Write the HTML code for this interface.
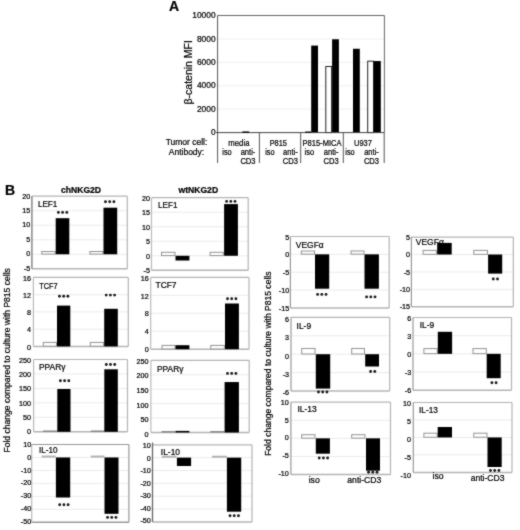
<!DOCTYPE html>
<html><head><meta charset="utf-8"><style>
html,body{margin:0;padding:0;background:#fff;width:520px;height:530px;overflow:hidden;}
svg{display:block;}
#w{width:520px;height:530px;}
text{font-family:"Liberation Sans", sans-serif;stroke:#000;stroke-width:0.22px;}
</style></head><body><div id="w">
<svg width="520" height="530" viewBox="0 0 520 530" font-family='"Liberation Sans", sans-serif'><defs><filter id="bl" filterUnits="userSpaceOnUse" x="0" y="0" width="520" height="530" color-interpolation-filters="sRGB"><feConvolveMatrix order="3" kernelMatrix="1 2 1 2 16 2 1 2 1" edgeMode="duplicate"/></filter></defs><rect width="520" height="530" fill="#fff"/><g filter="url(#bl)"><rect width="520" height="530" fill="#fff"/><text x="169.0" y="11.2" font-size="14" text-anchor="start" font-weight="bold" fill="#000" >A</text>
<line x1="217.60" y1="109.18" x2="384.40" y2="109.18" stroke="#f0f0f0" stroke-width="1"/>
<line x1="217.60" y1="85.76" x2="384.40" y2="85.76" stroke="#f0f0f0" stroke-width="1"/>
<line x1="217.60" y1="62.34" x2="384.40" y2="62.34" stroke="#f0f0f0" stroke-width="1"/>
<line x1="217.60" y1="38.92" x2="384.40" y2="38.92" stroke="#f0f0f0" stroke-width="1"/>
<line x1="217.60" y1="15.50" x2="384.40" y2="15.50" stroke="#f0f0f0" stroke-width="1"/>
<rect x="311.20" y="45.59" width="6.80" height="87.01" fill="#000" stroke="none" stroke-width="1"/>
<rect x="325.80" y="66.47" width="5.80" height="66.13" fill="#fff" stroke="#222" stroke-width="1"/>
<rect x="332.10" y="39.27" width="6.80" height="93.33" fill="#000" stroke="none" stroke-width="1"/>
<rect x="353.00" y="48.76" width="6.80" height="83.84" fill="#000" stroke="none" stroke-width="1"/>
<rect x="367.70" y="61.20" width="5.80" height="71.40" fill="#fff" stroke="#222" stroke-width="1"/>
<rect x="374.00" y="61.05" width="6.80" height="71.55" fill="#000" stroke="none" stroke-width="1"/>
<line x1="217.60" y1="15.50" x2="384.40" y2="15.50" stroke="#666" stroke-width="1"/>
<line x1="384.40" y1="15.50" x2="384.40" y2="132.60" stroke="#666" stroke-width="1"/>
<line x1="217.60" y1="15.50" x2="217.60" y2="163.00" stroke="#555" stroke-width="1"/>
<line x1="216.10" y1="132.60" x2="384.40" y2="132.60" stroke="#444" stroke-width="1"/>
<text x="215.6" y="135.29999999999998" font-size="8.4" text-anchor="end" font-weight="normal" fill="#000" >0</text>
<text x="215.6" y="111.88" font-size="8.4" text-anchor="end" font-weight="normal" fill="#000" >2000</text>
<text x="215.6" y="88.46" font-size="8.4" text-anchor="end" font-weight="normal" fill="#000" >4000</text>
<text x="215.6" y="65.03999999999999" font-size="8.4" text-anchor="end" font-weight="normal" fill="#000" >6000</text>
<text x="215.6" y="41.61999999999999" font-size="8.4" text-anchor="end" font-weight="normal" fill="#000" >8000</text>
<text x="215.6" y="18.2" font-size="8.4" text-anchor="end" font-weight="normal" fill="#000" >10000</text>
<rect x="242.30" y="131.40" width="6.90" height="1.60" fill="#111" stroke="none" stroke-width="1"/>
<rect x="305.20" y="131.50" width="6.00" height="1.50" fill="#111" stroke="none" stroke-width="1"/>
<line x1="259.40" y1="132.60" x2="259.40" y2="163.00" stroke="#555" stroke-width="1"/>
<line x1="300.70" y1="132.60" x2="300.70" y2="163.00" stroke="#555" stroke-width="1"/>
<line x1="343.30" y1="132.60" x2="343.30" y2="163.00" stroke="#555" stroke-width="1"/>
<line x1="384.20" y1="132.60" x2="384.20" y2="163.00" stroke="#555" stroke-width="1"/>
<text x="0" y="0" font-size="10.5" text-anchor="middle" font-weight="normal" fill="#000" transform="translate(192.4 72.3) rotate(-90)">&#946;-catenin MFI</text>
<text x="186.5" y="145.1" font-size="8.5" text-anchor="middle" font-weight="normal" fill="#000" >Tumor cell:</text>
<text x="186.5" y="155.3" font-size="8.5" text-anchor="middle" font-weight="normal" fill="#000" >Antibody:</text>
<text x="238.9" y="145.6" font-size="8.3" text-anchor="middle" font-weight="normal" fill="#000" textLength="21.1" lengthAdjust="spacingAndGlyphs">media</text>
<text x="278.3" y="145.6" font-size="8.3" text-anchor="middle" font-weight="normal" fill="#000" textLength="17.3" lengthAdjust="spacingAndGlyphs">P815</text>
<text x="322.0" y="145.6" font-size="8.3" text-anchor="middle" font-weight="normal" fill="#000" textLength="38.9" lengthAdjust="spacingAndGlyphs">P815-MICA</text>
<text x="363.0" y="145.6" font-size="8.3" text-anchor="middle" font-weight="normal" fill="#000" textLength="17.9" lengthAdjust="spacingAndGlyphs">U937</text>
<text x="227.0" y="155.4" font-size="8.3" text-anchor="middle" font-weight="normal" fill="#000" lengthAdjust="spacingAndGlyphs" textLength="9.4">iso</text>
<text x="248.0" y="155.3" font-size="8.3" text-anchor="middle" font-weight="normal" fill="#000" lengthAdjust="spacingAndGlyphs" textLength="14.7">anti-</text>
<text x="248.0" y="163.5" font-size="8.3" text-anchor="middle" font-weight="normal" fill="#000" lengthAdjust="spacingAndGlyphs" textLength="15.2">CD3</text>
<text x="269.9" y="155.4" font-size="8.3" text-anchor="middle" font-weight="normal" fill="#000" lengthAdjust="spacingAndGlyphs" textLength="9.4">iso</text>
<text x="290.4" y="155.3" font-size="8.3" text-anchor="middle" font-weight="normal" fill="#000" lengthAdjust="spacingAndGlyphs" textLength="14.7">anti-</text>
<text x="290.4" y="163.5" font-size="8.3" text-anchor="middle" font-weight="normal" fill="#000" lengthAdjust="spacingAndGlyphs" textLength="15.2">CD3</text>
<text x="309.3" y="155.4" font-size="8.3" text-anchor="middle" font-weight="normal" fill="#000" lengthAdjust="spacingAndGlyphs" textLength="9.4">iso</text>
<text x="331.1" y="155.3" font-size="8.3" text-anchor="middle" font-weight="normal" fill="#000" lengthAdjust="spacingAndGlyphs" textLength="14.7">anti-</text>
<text x="331.1" y="163.5" font-size="8.3" text-anchor="middle" font-weight="normal" fill="#000" lengthAdjust="spacingAndGlyphs" textLength="15.2">CD3</text>
<text x="350.0" y="155.4" font-size="8.3" text-anchor="middle" font-weight="normal" fill="#000" lengthAdjust="spacingAndGlyphs" textLength="9.4">iso</text>
<text x="371.5" y="155.3" font-size="8.3" text-anchor="middle" font-weight="normal" fill="#000" lengthAdjust="spacingAndGlyphs" textLength="14.7">anti-</text>
<text x="371.5" y="163.5" font-size="8.3" text-anchor="middle" font-weight="normal" fill="#000" lengthAdjust="spacingAndGlyphs" textLength="15.2">CD3</text>
<text x="5.0" y="194.9" font-size="14" text-anchor="start" font-weight="bold" fill="#000" >B</text>
<text x="81.0" y="193.3" font-size="8.6" text-anchor="middle" font-weight="bold" fill="#000" >chNKG2D</text>
<text x="198.3" y="193.3" font-size="8.6" text-anchor="middle" font-weight="bold" fill="#000" >wtNKG2D</text>
<line x1="31.90" y1="210.72" x2="127.30" y2="210.72" stroke="#ebebeb" stroke-width="1"/>
<line x1="31.90" y1="225.24" x2="127.30" y2="225.24" stroke="#ebebeb" stroke-width="1"/>
<line x1="31.90" y1="239.76" x2="127.30" y2="239.76" stroke="#ebebeb" stroke-width="1"/>
<line x1="31.90" y1="254.28" x2="127.30" y2="254.28" stroke="#ebebeb" stroke-width="1"/>
<line x1="31.90" y1="196.20" x2="127.30" y2="196.20" stroke="#b4b4b4" stroke-width="1.2"/>
<line x1="127.30" y1="196.20" x2="127.30" y2="268.80" stroke="#b4b4b4" stroke-width="1.2"/>
<line x1="31.90" y1="268.80" x2="127.30" y2="268.80" stroke="#b4b4b4" stroke-width="1.5"/>
<text x="37.9" y="207.2" font-size="8.5" text-anchor="start" font-weight="normal" fill="#000" textLength="19.5" lengthAdjust="spacingAndGlyphs">LEF1</text>
<rect x="41.80" y="251.50" width="13.40" height="2.58" fill="#fff" stroke="#939393" stroke-width="1"/>
<rect x="55.70" y="218.20" width="13.60" height="36.08" fill="#000" stroke="none" stroke-width="1"/>
<rect x="89.90" y="251.50" width="13.10" height="2.58" fill="#fff" stroke="#939393" stroke-width="1"/>
<rect x="103.50" y="207.70" width="13.70" height="46.58" fill="#000" stroke="none" stroke-width="1"/>
<line x1="31.90" y1="196.20" x2="31.90" y2="268.80" stroke="#888" stroke-width="1.5"/>
<text x="30.299999999999997" y="198.7" font-size="7.2" text-anchor="end" font-weight="normal" fill="#000" >20</text>
<text x="30.299999999999997" y="213.08" font-size="7.2" text-anchor="end" font-weight="normal" fill="#000" >15</text>
<text x="30.299999999999997" y="227.46" font-size="7.2" text-anchor="end" font-weight="normal" fill="#000" >10</text>
<text x="30.299999999999997" y="241.84" font-size="7.2" text-anchor="end" font-weight="normal" fill="#000" >5</text>
<text x="30.299999999999997" y="256.22" font-size="7.2" text-anchor="end" font-weight="normal" fill="#000" >0</text>
<text x="30.299999999999997" y="270.6" font-size="7.2" text-anchor="end" font-weight="normal" fill="#000" >-5</text>
<circle cx="58.40" cy="212.40" r="1.45" fill="#1a1a1a"/>
<circle cx="62.60" cy="212.40" r="1.45" fill="#1a1a1a"/>
<circle cx="66.80" cy="212.40" r="1.45" fill="#1a1a1a"/>
<circle cx="105.50" cy="201.70" r="1.45" fill="#1a1a1a"/>
<circle cx="109.70" cy="201.70" r="1.45" fill="#1a1a1a"/>
<circle cx="113.90" cy="201.70" r="1.45" fill="#1a1a1a"/>
<line x1="33.40" y1="294.65" x2="128.30" y2="294.65" stroke="#ebebeb" stroke-width="1"/>
<line x1="33.40" y1="311.90" x2="128.30" y2="311.90" stroke="#ebebeb" stroke-width="1"/>
<line x1="33.40" y1="329.15" x2="128.30" y2="329.15" stroke="#ebebeb" stroke-width="1"/>
<line x1="33.40" y1="277.40" x2="128.30" y2="277.40" stroke="#b4b4b4" stroke-width="1.2"/>
<line x1="128.30" y1="277.40" x2="128.30" y2="346.40" stroke="#b4b4b4" stroke-width="1.2"/>
<line x1="33.40" y1="346.40" x2="128.30" y2="346.40" stroke="#b4b4b4" stroke-width="1.5"/>
<text x="39.2" y="288.8" font-size="8.5" text-anchor="start" font-weight="normal" fill="#000" textLength="18.3" lengthAdjust="spacingAndGlyphs">TCF7</text>
<rect x="43.30" y="342.40" width="13.20" height="3.80" fill="#fff" stroke="#939393" stroke-width="1"/>
<rect x="57.00" y="305.60" width="13.30" height="40.80" fill="#000" stroke="none" stroke-width="1"/>
<rect x="90.30" y="342.40" width="13.40" height="3.80" fill="#fff" stroke="#939393" stroke-width="1"/>
<rect x="104.20" y="308.80" width="13.60" height="37.60" fill="#000" stroke="none" stroke-width="1"/>
<line x1="33.40" y1="277.40" x2="33.40" y2="346.40" stroke="#bbb" stroke-width="1.2"/>
<text x="30.999999999999996" y="280.7" font-size="7.2" text-anchor="end" font-weight="normal" fill="#000" >16</text>
<text x="30.999999999999996" y="297.9" font-size="7.2" text-anchor="end" font-weight="normal" fill="#000" >12</text>
<text x="30.999999999999996" y="315.1" font-size="7.2" text-anchor="end" font-weight="normal" fill="#000" >8</text>
<text x="30.999999999999996" y="332.3" font-size="7.2" text-anchor="end" font-weight="normal" fill="#000" >4</text>
<text x="30.999999999999996" y="349.5" font-size="7.2" text-anchor="end" font-weight="normal" fill="#000" >0</text>
<circle cx="59.50" cy="296.25" r="1.45" fill="#1a1a1a"/>
<circle cx="63.70" cy="296.25" r="1.45" fill="#1a1a1a"/>
<circle cx="67.90" cy="296.25" r="1.45" fill="#1a1a1a"/>
<circle cx="106.20" cy="295.10" r="1.45" fill="#1a1a1a"/>
<circle cx="110.40" cy="295.10" r="1.45" fill="#1a1a1a"/>
<circle cx="114.60" cy="295.10" r="1.45" fill="#1a1a1a"/>
<line x1="33.60" y1="373.96" x2="127.50" y2="373.96" stroke="#ebebeb" stroke-width="1"/>
<line x1="33.60" y1="388.42" x2="127.50" y2="388.42" stroke="#ebebeb" stroke-width="1"/>
<line x1="33.60" y1="402.88" x2="127.50" y2="402.88" stroke="#ebebeb" stroke-width="1"/>
<line x1="33.60" y1="417.34" x2="127.50" y2="417.34" stroke="#ebebeb" stroke-width="1"/>
<line x1="33.60" y1="359.50" x2="127.50" y2="359.50" stroke="#b4b4b4" stroke-width="1.2"/>
<line x1="127.50" y1="359.50" x2="127.50" y2="431.80" stroke="#b4b4b4" stroke-width="1.2"/>
<line x1="33.60" y1="431.80" x2="127.50" y2="431.80" stroke="#b4b4b4" stroke-width="1.5"/>
<text x="39.0" y="369.6" font-size="8.5" text-anchor="start" font-weight="normal" fill="#000" textLength="26.5" lengthAdjust="spacingAndGlyphs">PPAR&#947;</text>
<rect x="43.00" y="430.60" width="14.30" height="1.00" fill="#666" stroke="none" stroke-width="1"/>
<rect x="57.30" y="389.00" width="13.20" height="42.80" fill="#000" stroke="none" stroke-width="1"/>
<rect x="90.80" y="430.60" width="13.50" height="1.00" fill="#666" stroke="none" stroke-width="1"/>
<rect x="104.30" y="369.30" width="13.50" height="62.50" fill="#000" stroke="none" stroke-width="1"/>
<line x1="33.60" y1="359.50" x2="33.60" y2="431.80" stroke="#bbb" stroke-width="1.2"/>
<text x="31.0" y="363.0" font-size="7.2" text-anchor="end" font-weight="normal" fill="#000" >250</text>
<text x="31.0" y="377.18" font-size="7.2" text-anchor="end" font-weight="normal" fill="#000" >200</text>
<text x="31.0" y="391.36" font-size="7.2" text-anchor="end" font-weight="normal" fill="#000" >150</text>
<text x="31.0" y="405.54" font-size="7.2" text-anchor="end" font-weight="normal" fill="#000" >100</text>
<text x="31.0" y="419.72" font-size="7.2" text-anchor="end" font-weight="normal" fill="#000" >50</text>
<text x="31.0" y="433.9" font-size="7.2" text-anchor="end" font-weight="normal" fill="#000" >0</text>
<circle cx="60.40" cy="380.80" r="1.45" fill="#1a1a1a"/>
<circle cx="64.60" cy="380.80" r="1.45" fill="#1a1a1a"/>
<circle cx="68.80" cy="380.80" r="1.45" fill="#1a1a1a"/>
<circle cx="106.30" cy="364.50" r="1.45" fill="#1a1a1a"/>
<circle cx="110.50" cy="364.50" r="1.45" fill="#1a1a1a"/>
<circle cx="114.70" cy="364.50" r="1.45" fill="#1a1a1a"/>
<line x1="31.70" y1="457.47" x2="128.90" y2="457.47" stroke="#ebebeb" stroke-width="1"/>
<line x1="31.70" y1="470.43" x2="128.90" y2="470.43" stroke="#ebebeb" stroke-width="1"/>
<line x1="31.70" y1="483.40" x2="128.90" y2="483.40" stroke="#ebebeb" stroke-width="1"/>
<line x1="31.70" y1="496.37" x2="128.90" y2="496.37" stroke="#ebebeb" stroke-width="1"/>
<line x1="31.70" y1="509.33" x2="128.90" y2="509.33" stroke="#ebebeb" stroke-width="1"/>
<line x1="31.70" y1="444.50" x2="128.90" y2="444.50" stroke="#999" stroke-width="1.2"/>
<line x1="128.90" y1="444.50" x2="128.90" y2="522.30" stroke="#999" stroke-width="1.2"/>
<line x1="31.70" y1="522.30" x2="128.90" y2="522.30" stroke="#999" stroke-width="1.5"/>
<text x="39.0" y="453.2" font-size="8.5" text-anchor="start" font-weight="normal" fill="#000" textLength="18.5" lengthAdjust="spacingAndGlyphs">IL-10</text>
<rect x="41.70" y="455.57" width="14.00" height="1.90" fill="#b0b0b0" stroke="none" stroke-width="1"/>
<rect x="55.90" y="457.47" width="14.30" height="40.03" fill="#000" stroke="none" stroke-width="1"/>
<rect x="90.80" y="455.57" width="13.70" height="1.90" fill="#b0b0b0" stroke="none" stroke-width="1"/>
<rect x="104.50" y="457.47" width="14.00" height="56.33" fill="#000" stroke="none" stroke-width="1"/>
<line x1="31.70" y1="444.50" x2="31.70" y2="522.30" stroke="#bbb" stroke-width="1.2"/>
<text x="31.2" y="447.0" font-size="7.2" text-anchor="end" font-weight="normal" fill="#000" >10</text>
<text x="31.2" y="459.8" font-size="7.2" text-anchor="end" font-weight="normal" fill="#000" >0</text>
<text x="31.2" y="472.6" font-size="7.2" text-anchor="end" font-weight="normal" fill="#000" >-10</text>
<text x="31.2" y="485.4" font-size="7.2" text-anchor="end" font-weight="normal" fill="#000" >-20</text>
<text x="31.2" y="498.2" font-size="7.2" text-anchor="end" font-weight="normal" fill="#000" >-30</text>
<text x="31.2" y="511.0" font-size="7.2" text-anchor="end" font-weight="normal" fill="#000" >-40</text>
<text x="31.2" y="523.8" font-size="7.2" text-anchor="end" font-weight="normal" fill="#000" >-50</text>
<circle cx="59.70" cy="504.70" r="1.45" fill="#1a1a1a"/>
<circle cx="63.90" cy="504.70" r="1.45" fill="#1a1a1a"/>
<circle cx="68.10" cy="504.70" r="1.45" fill="#1a1a1a"/>
<circle cx="107.55" cy="517.40" r="1.45" fill="#1a1a1a"/>
<circle cx="111.75" cy="517.40" r="1.45" fill="#1a1a1a"/>
<circle cx="115.95" cy="517.40" r="1.45" fill="#1a1a1a"/>
<line x1="151.50" y1="212.22" x2="248.20" y2="212.22" stroke="#ebebeb" stroke-width="1"/>
<line x1="151.50" y1="226.74" x2="248.20" y2="226.74" stroke="#ebebeb" stroke-width="1"/>
<line x1="151.50" y1="241.26" x2="248.20" y2="241.26" stroke="#ebebeb" stroke-width="1"/>
<line x1="151.50" y1="255.78" x2="248.20" y2="255.78" stroke="#ebebeb" stroke-width="1"/>
<line x1="151.50" y1="197.70" x2="248.20" y2="197.70" stroke="#b4b4b4" stroke-width="1.2"/>
<line x1="248.20" y1="197.70" x2="248.20" y2="270.30" stroke="#b4b4b4" stroke-width="1.2"/>
<line x1="151.50" y1="270.30" x2="248.20" y2="270.30" stroke="#b4b4b4" stroke-width="1.5"/>
<text x="158.0" y="208.2" font-size="8.5" text-anchor="start" font-weight="normal" fill="#000" textLength="19.4" lengthAdjust="spacingAndGlyphs">LEF1</text>
<rect x="161.50" y="252.30" width="13.50" height="3.28" fill="#fff" stroke="#939393" stroke-width="1"/>
<rect x="175.50" y="255.78" width="13.90" height="4.72" fill="#000" stroke="none" stroke-width="1"/>
<rect x="210.10" y="252.30" width="13.20" height="3.28" fill="#fff" stroke="#939393" stroke-width="1"/>
<rect x="224.10" y="204.10" width="13.80" height="51.68" fill="#000" stroke="none" stroke-width="1"/>
<line x1="151.50" y1="197.70" x2="151.50" y2="270.30" stroke="#bbb" stroke-width="1.2"/>
<text x="150.0" y="200.5" font-size="7.2" text-anchor="end" font-weight="normal" fill="#000" >20</text>
<text x="150.0" y="215.0" font-size="7.2" text-anchor="end" font-weight="normal" fill="#000" >15</text>
<text x="150.0" y="229.5" font-size="7.2" text-anchor="end" font-weight="normal" fill="#000" >10</text>
<text x="150.0" y="244.0" font-size="7.2" text-anchor="end" font-weight="normal" fill="#000" >5</text>
<text x="150.0" y="258.5" font-size="7.2" text-anchor="end" font-weight="normal" fill="#000" >0</text>
<text x="150.0" y="273.0" font-size="7.2" text-anchor="end" font-weight="normal" fill="#000" >-5</text>
<circle cx="226.60" cy="201.40" r="1.45" fill="#1a1a1a"/>
<circle cx="230.80" cy="201.40" r="1.45" fill="#1a1a1a"/>
<circle cx="235.00" cy="201.40" r="1.45" fill="#1a1a1a"/>
<line x1="150.70" y1="295.35" x2="249.00" y2="295.35" stroke="#ebebeb" stroke-width="1"/>
<line x1="150.70" y1="313.30" x2="249.00" y2="313.30" stroke="#ebebeb" stroke-width="1"/>
<line x1="150.70" y1="331.25" x2="249.00" y2="331.25" stroke="#ebebeb" stroke-width="1"/>
<line x1="150.70" y1="277.40" x2="249.00" y2="277.40" stroke="#b4b4b4" stroke-width="1.2"/>
<line x1="249.00" y1="277.40" x2="249.00" y2="349.20" stroke="#b4b4b4" stroke-width="1.2"/>
<line x1="150.70" y1="349.20" x2="249.00" y2="349.20" stroke="#b4b4b4" stroke-width="1.5"/>
<text x="155.5" y="288.4" font-size="8.5" text-anchor="start" font-weight="normal" fill="#000" textLength="21.0" lengthAdjust="spacingAndGlyphs">TCF7</text>
<rect x="162.00" y="345.40" width="13.00" height="3.60" fill="#fff" stroke="#939393" stroke-width="1"/>
<rect x="175.50" y="345.20" width="13.90" height="4.00" fill="#000" stroke="none" stroke-width="1"/>
<rect x="210.80" y="345.40" width="13.50" height="3.60" fill="#fff" stroke="#939393" stroke-width="1"/>
<rect x="225.00" y="303.50" width="13.90" height="45.70" fill="#000" stroke="none" stroke-width="1"/>
<line x1="150.70" y1="277.40" x2="150.70" y2="349.20" stroke="#bbb" stroke-width="1.2"/>
<text x="148.79999999999998" y="280.7" font-size="7.2" text-anchor="end" font-weight="normal" fill="#000" >16</text>
<text x="148.79999999999998" y="298.5" font-size="7.2" text-anchor="end" font-weight="normal" fill="#000" >12</text>
<text x="148.79999999999998" y="316.3" font-size="7.2" text-anchor="end" font-weight="normal" fill="#000" >8</text>
<text x="148.79999999999998" y="334.1" font-size="7.2" text-anchor="end" font-weight="normal" fill="#000" >4</text>
<text x="148.79999999999998" y="351.9" font-size="7.2" text-anchor="end" font-weight="normal" fill="#000" >0</text>
<circle cx="227.50" cy="298.75" r="1.45" fill="#1a1a1a"/>
<circle cx="231.70" cy="298.75" r="1.45" fill="#1a1a1a"/>
<circle cx="235.90" cy="298.75" r="1.45" fill="#1a1a1a"/>
<line x1="150.90" y1="374.74" x2="249.20" y2="374.74" stroke="#ebebeb" stroke-width="1"/>
<line x1="150.90" y1="389.18" x2="249.20" y2="389.18" stroke="#ebebeb" stroke-width="1"/>
<line x1="150.90" y1="403.62" x2="249.20" y2="403.62" stroke="#ebebeb" stroke-width="1"/>
<line x1="150.90" y1="418.06" x2="249.20" y2="418.06" stroke="#ebebeb" stroke-width="1"/>
<line x1="150.90" y1="360.30" x2="249.20" y2="360.30" stroke="#b4b4b4" stroke-width="1.2"/>
<line x1="249.20" y1="360.30" x2="249.20" y2="432.50" stroke="#b4b4b4" stroke-width="1.2"/>
<line x1="150.90" y1="432.50" x2="249.20" y2="432.50" stroke="#b4b4b4" stroke-width="1.5"/>
<text x="157.0" y="371.6" font-size="8.5" text-anchor="start" font-weight="normal" fill="#000" textLength="26.5" lengthAdjust="spacingAndGlyphs">PPAR&#947;</text>
<rect x="161.50" y="431.30" width="14.00" height="1.00" fill="#666" stroke="none" stroke-width="1"/>
<rect x="175.50" y="430.90" width="13.90" height="1.60" fill="#000" stroke="none" stroke-width="1"/>
<rect x="210.30" y="431.30" width="14.30" height="1.00" fill="#666" stroke="none" stroke-width="1"/>
<rect x="224.60" y="382.05" width="14.30" height="50.45" fill="#000" stroke="none" stroke-width="1"/>
<line x1="150.90" y1="360.30" x2="150.90" y2="432.50" stroke="#bbb" stroke-width="1.2"/>
<text x="148.5" y="363.5" font-size="7.2" text-anchor="end" font-weight="normal" fill="#000" >250</text>
<text x="148.5" y="378.2" font-size="7.2" text-anchor="end" font-weight="normal" fill="#000" >200</text>
<text x="148.5" y="392.9" font-size="7.2" text-anchor="end" font-weight="normal" fill="#000" >150</text>
<text x="148.5" y="407.6" font-size="7.2" text-anchor="end" font-weight="normal" fill="#000" >100</text>
<text x="148.5" y="422.3" font-size="7.2" text-anchor="end" font-weight="normal" fill="#000" >50</text>
<text x="148.5" y="437.0" font-size="7.2" text-anchor="end" font-weight="normal" fill="#000" >0</text>
<circle cx="227.50" cy="373.40" r="1.45" fill="#1a1a1a"/>
<circle cx="231.70" cy="373.40" r="1.45" fill="#1a1a1a"/>
<circle cx="235.90" cy="373.40" r="1.45" fill="#1a1a1a"/>
<line x1="152.50" y1="457.65" x2="252.00" y2="457.65" stroke="#ebebeb" stroke-width="1"/>
<line x1="152.50" y1="470.50" x2="252.00" y2="470.50" stroke="#ebebeb" stroke-width="1"/>
<line x1="152.50" y1="483.35" x2="252.00" y2="483.35" stroke="#ebebeb" stroke-width="1"/>
<line x1="152.50" y1="496.20" x2="252.00" y2="496.20" stroke="#ebebeb" stroke-width="1"/>
<line x1="152.50" y1="509.05" x2="252.00" y2="509.05" stroke="#ebebeb" stroke-width="1"/>
<line x1="152.50" y1="444.80" x2="252.00" y2="444.80" stroke="#b4b4b4" stroke-width="1.2"/>
<line x1="252.00" y1="444.80" x2="252.00" y2="521.90" stroke="#b4b4b4" stroke-width="1.2"/>
<line x1="152.50" y1="521.90" x2="252.00" y2="521.90" stroke="#b4b4b4" stroke-width="1.5"/>
<text x="160.8" y="454.8" font-size="8.5" text-anchor="start" font-weight="normal" fill="#000" textLength="19.2" lengthAdjust="spacingAndGlyphs">IL-10</text>
<rect x="161.90" y="455.75" width="14.60" height="1.90" fill="#b0b0b0" stroke="none" stroke-width="1"/>
<rect x="176.90" y="457.65" width="14.20" height="8.35" fill="#000" stroke="none" stroke-width="1"/>
<rect x="212.00" y="455.75" width="15.00" height="1.90" fill="#b0b0b0" stroke="none" stroke-width="1"/>
<rect x="226.90" y="457.65" width="14.30" height="54.05" fill="#000" stroke="none" stroke-width="1"/>
<line x1="152.50" y1="444.80" x2="152.50" y2="521.90" stroke="#666" stroke-width="1.3"/>
<text x="150.8" y="448.0" font-size="7.2" text-anchor="end" font-weight="normal" fill="#000" >10</text>
<text x="150.8" y="460.5" font-size="7.2" text-anchor="end" font-weight="normal" fill="#000" >0</text>
<text x="150.8" y="473.0" font-size="7.2" text-anchor="end" font-weight="normal" fill="#000" >-10</text>
<text x="150.8" y="485.5" font-size="7.2" text-anchor="end" font-weight="normal" fill="#000" >-20</text>
<text x="150.8" y="498.0" font-size="7.2" text-anchor="end" font-weight="normal" fill="#000" >-30</text>
<text x="150.8" y="510.5" font-size="7.2" text-anchor="end" font-weight="normal" fill="#000" >-40</text>
<text x="150.8" y="523.0" font-size="7.2" text-anchor="end" font-weight="normal" fill="#000" >-50</text>
<circle cx="230.05" cy="515.80" r="1.45" fill="#1a1a1a"/>
<circle cx="234.25" cy="515.80" r="1.45" fill="#1a1a1a"/>
<circle cx="238.45" cy="515.80" r="1.45" fill="#1a1a1a"/>
<line x1="152.50" y1="442.50" x2="152.50" y2="445.00" stroke="#666" stroke-width="1.3"/>
<line x1="290.40" y1="254.35" x2="389.20" y2="254.35" stroke="#ebebeb" stroke-width="1"/>
<line x1="290.40" y1="272.20" x2="389.20" y2="272.20" stroke="#ebebeb" stroke-width="1"/>
<line x1="290.40" y1="290.05" x2="389.20" y2="290.05" stroke="#ebebeb" stroke-width="1"/>
<line x1="290.40" y1="236.50" x2="389.20" y2="236.50" stroke="#b4b4b4" stroke-width="1.2"/>
<line x1="389.20" y1="236.50" x2="389.20" y2="307.90" stroke="#b4b4b4" stroke-width="1.2"/>
<line x1="290.40" y1="307.90" x2="389.20" y2="307.90" stroke="#b4b4b4" stroke-width="1.5"/>
<text x="295.8" y="247.7" font-size="8.5" text-anchor="start" font-weight="normal" fill="#000" textLength="27.9" lengthAdjust="spacingAndGlyphs">VEGF&#945;</text>
<rect x="301.30" y="251.00" width="13.20" height="3.15" fill="#fff" stroke="#939393" stroke-width="1"/>
<rect x="315.00" y="254.35" width="14.20" height="34.35" fill="#000" stroke="none" stroke-width="1"/>
<rect x="351.00" y="251.00" width="13.00" height="3.15" fill="#fff" stroke="#939393" stroke-width="1"/>
<rect x="364.50" y="254.35" width="14.40" height="34.35" fill="#000" stroke="none" stroke-width="1"/>
<line x1="290.40" y1="236.50" x2="290.40" y2="307.90" stroke="#999" stroke-width="1.2"/>
<text x="289.19999999999993" y="239.5" font-size="7.2" text-anchor="end" font-weight="normal" fill="#000" >5</text>
<text x="289.19999999999993" y="257.27" font-size="7.2" text-anchor="end" font-weight="normal" fill="#000" >0</text>
<text x="289.19999999999993" y="275.05" font-size="7.2" text-anchor="end" font-weight="normal" fill="#000" >-5</text>
<text x="289.19999999999993" y="292.83" font-size="7.2" text-anchor="end" font-weight="normal" fill="#000" >-10</text>
<text x="289.19999999999993" y="310.6" font-size="7.2" text-anchor="end" font-weight="normal" fill="#000" >-15</text>
<circle cx="317.60" cy="294.40" r="1.45" fill="#1a1a1a"/>
<circle cx="321.80" cy="294.40" r="1.45" fill="#1a1a1a"/>
<circle cx="326.00" cy="294.40" r="1.45" fill="#1a1a1a"/>
<circle cx="366.60" cy="296.90" r="1.45" fill="#1a1a1a"/>
<circle cx="370.80" cy="296.90" r="1.45" fill="#1a1a1a"/>
<circle cx="375.00" cy="296.90" r="1.45" fill="#1a1a1a"/>
<line x1="291.00" y1="335.80" x2="389.70" y2="335.80" stroke="#ebebeb" stroke-width="1"/>
<line x1="291.00" y1="354.20" x2="389.70" y2="354.20" stroke="#ebebeb" stroke-width="1"/>
<line x1="291.00" y1="372.60" x2="389.70" y2="372.60" stroke="#ebebeb" stroke-width="1"/>
<line x1="291.00" y1="317.40" x2="389.70" y2="317.40" stroke="#b4b4b4" stroke-width="1.2"/>
<line x1="389.70" y1="317.40" x2="389.70" y2="391.00" stroke="#b4b4b4" stroke-width="1.2"/>
<line x1="291.00" y1="391.00" x2="389.70" y2="391.00" stroke="#b4b4b4" stroke-width="1.5"/>
<text x="296.6" y="328.9" font-size="8.5" text-anchor="start" font-weight="normal" fill="#000" textLength="14.5" lengthAdjust="spacingAndGlyphs">IL-9</text>
<rect x="301.70" y="348.45" width="13.30" height="5.55" fill="#fff" stroke="#939393" stroke-width="1"/>
<rect x="315.80" y="354.20" width="14.40" height="34.40" fill="#000" stroke="none" stroke-width="1"/>
<rect x="351.70" y="348.45" width="12.80" height="5.55" fill="#fff" stroke="#939393" stroke-width="1"/>
<rect x="365.20" y="354.20" width="13.80" height="12.30" fill="#000" stroke="none" stroke-width="1"/>
<line x1="291.00" y1="317.40" x2="291.00" y2="391.00" stroke="#999" stroke-width="1.2"/>
<text x="289.09999999999997" y="322.2" font-size="7.2" text-anchor="end" font-weight="normal" fill="#000" >6</text>
<text x="289.09999999999997" y="340.4" font-size="7.2" text-anchor="end" font-weight="normal" fill="#000" >3</text>
<text x="289.09999999999997" y="358.6" font-size="7.2" text-anchor="end" font-weight="normal" fill="#000" >0</text>
<text x="289.09999999999997" y="376.8" font-size="7.2" text-anchor="end" font-weight="normal" fill="#000" >-3</text>
<text x="289.09999999999997" y="395.0" font-size="7.2" text-anchor="end" font-weight="normal" fill="#000" >-6</text>
<circle cx="318.50" cy="392.00" r="1.45" fill="#1a1a1a"/>
<circle cx="322.70" cy="392.00" r="1.45" fill="#1a1a1a"/>
<circle cx="326.90" cy="392.00" r="1.45" fill="#1a1a1a"/>
<circle cx="370.60" cy="371.50" r="1.45" fill="#1a1a1a"/>
<circle cx="374.80" cy="371.50" r="1.45" fill="#1a1a1a"/>
<line x1="290.90" y1="420.27" x2="390.50" y2="420.27" stroke="#ebebeb" stroke-width="1"/>
<line x1="290.90" y1="438.35" x2="390.50" y2="438.35" stroke="#ebebeb" stroke-width="1"/>
<line x1="290.90" y1="456.43" x2="390.50" y2="456.43" stroke="#ebebeb" stroke-width="1"/>
<line x1="290.90" y1="402.20" x2="390.50" y2="402.20" stroke="#b4b4b4" stroke-width="1.2"/>
<line x1="390.50" y1="402.20" x2="390.50" y2="474.50" stroke="#b4b4b4" stroke-width="1.2"/>
<line x1="290.90" y1="474.50" x2="390.50" y2="474.50" stroke="#b4b4b4" stroke-width="1.5"/>
<text x="297.4" y="412.4" font-size="8.5" text-anchor="start" font-weight="normal" fill="#000" textLength="19.4" lengthAdjust="spacingAndGlyphs">IL-13</text>
<rect x="301.70" y="434.70" width="13.30" height="3.45" fill="#fff" stroke="#939393" stroke-width="1"/>
<rect x="315.80" y="438.35" width="14.10" height="15.35" fill="#000" stroke="none" stroke-width="1"/>
<rect x="351.70" y="434.70" width="13.30" height="3.45" fill="#fff" stroke="#939393" stroke-width="1"/>
<rect x="366.00" y="438.35" width="14.00" height="32.35" fill="#000" stroke="none" stroke-width="1"/>
<line x1="290.90" y1="402.20" x2="290.90" y2="474.50" stroke="#999" stroke-width="1.2"/>
<text x="288.79999999999995" y="405.0" font-size="7.2" text-anchor="end" font-weight="normal" fill="#000" >10</text>
<text x="288.79999999999995" y="422.73" font-size="7.2" text-anchor="end" font-weight="normal" fill="#000" >5</text>
<text x="288.79999999999995" y="440.45" font-size="7.2" text-anchor="end" font-weight="normal" fill="#000" >0</text>
<text x="288.79999999999995" y="458.17" font-size="7.2" text-anchor="end" font-weight="normal" fill="#000" >-5</text>
<text x="288.79999999999995" y="475.9" font-size="7.2" text-anchor="end" font-weight="normal" fill="#000" >-10</text>
<circle cx="319.20" cy="458.00" r="1.45" fill="#1a1a1a"/>
<circle cx="323.40" cy="458.00" r="1.45" fill="#1a1a1a"/>
<circle cx="327.60" cy="458.00" r="1.45" fill="#1a1a1a"/>
<circle cx="368.60" cy="472.30" r="1.45" fill="#1a1a1a"/>
<circle cx="372.80" cy="472.30" r="1.45" fill="#1a1a1a"/>
<circle cx="377.00" cy="472.30" r="1.45" fill="#1a1a1a"/>
<line x1="411.40" y1="254.53" x2="513.30" y2="254.53" stroke="#ebebeb" stroke-width="1"/>
<line x1="411.40" y1="271.95" x2="513.30" y2="271.95" stroke="#ebebeb" stroke-width="1"/>
<line x1="411.40" y1="289.38" x2="513.30" y2="289.38" stroke="#ebebeb" stroke-width="1"/>
<line x1="411.40" y1="237.10" x2="513.30" y2="237.10" stroke="#b4b4b4" stroke-width="1.2"/>
<line x1="513.30" y1="237.10" x2="513.30" y2="306.80" stroke="#b4b4b4" stroke-width="1.2"/>
<line x1="411.40" y1="306.80" x2="513.30" y2="306.80" stroke="#b4b4b4" stroke-width="1.5"/>
<text x="415.8" y="245.4" font-size="8.5" text-anchor="start" font-weight="normal" fill="#000" textLength="28.0" lengthAdjust="spacingAndGlyphs">VEGF&#945;</text>
<rect x="423.10" y="250.40" width="13.30" height="3.93" fill="#fff" stroke="#939393" stroke-width="1"/>
<rect x="437.20" y="242.90" width="14.50" height="11.62" fill="#000" stroke="none" stroke-width="1"/>
<rect x="473.80" y="250.40" width="13.70" height="3.93" fill="#fff" stroke="#939393" stroke-width="1"/>
<rect x="488.10" y="254.53" width="14.10" height="19.08" fill="#000" stroke="none" stroke-width="1"/>
<line x1="411.40" y1="237.10" x2="411.40" y2="306.80" stroke="#999" stroke-width="1.2"/>
<text x="410.09999999999997" y="240.2" font-size="7.2" text-anchor="end" font-weight="normal" fill="#000" >5</text>
<text x="410.09999999999997" y="257.43" font-size="7.2" text-anchor="end" font-weight="normal" fill="#000" >0</text>
<text x="410.09999999999997" y="274.65" font-size="7.2" text-anchor="end" font-weight="normal" fill="#000" >-5</text>
<text x="410.09999999999997" y="291.88" font-size="7.2" text-anchor="end" font-weight="normal" fill="#000" >-10</text>
<text x="410.09999999999997" y="309.1" font-size="7.2" text-anchor="end" font-weight="normal" fill="#000" >-15</text>
<circle cx="493.30" cy="279.00" r="1.45" fill="#1a1a1a"/>
<circle cx="497.50" cy="279.00" r="1.45" fill="#1a1a1a"/>
<line x1="413.00" y1="335.68" x2="511.50" y2="335.68" stroke="#ebebeb" stroke-width="1"/>
<line x1="413.00" y1="353.85" x2="511.50" y2="353.85" stroke="#ebebeb" stroke-width="1"/>
<line x1="413.00" y1="372.02" x2="511.50" y2="372.02" stroke="#ebebeb" stroke-width="1"/>
<line x1="413.00" y1="317.50" x2="511.50" y2="317.50" stroke="#b4b4b4" stroke-width="1.2"/>
<line x1="511.50" y1="317.50" x2="511.50" y2="390.20" stroke="#b4b4b4" stroke-width="1.2"/>
<line x1="413.00" y1="390.20" x2="511.50" y2="390.20" stroke="#b4b4b4" stroke-width="1.5"/>
<text x="419.8" y="328.4" font-size="8.5" text-anchor="start" font-weight="normal" fill="#000" textLength="14.4" lengthAdjust="spacingAndGlyphs">IL-9</text>
<rect x="423.90" y="348.60" width="13.30" height="5.05" fill="#fff" stroke="#939393" stroke-width="1"/>
<rect x="437.80" y="331.80" width="14.30" height="22.05" fill="#000" stroke="none" stroke-width="1"/>
<rect x="473.00" y="348.60" width="13.30" height="5.05" fill="#fff" stroke="#939393" stroke-width="1"/>
<rect x="486.70" y="353.85" width="14.00" height="24.35" fill="#000" stroke="none" stroke-width="1"/>
<line x1="413.00" y1="317.50" x2="413.00" y2="390.20" stroke="#999" stroke-width="1.2"/>
<text x="411.2" y="320.7" font-size="7.2" text-anchor="end" font-weight="normal" fill="#000" >6</text>
<text x="411.2" y="338.88" font-size="7.2" text-anchor="end" font-weight="normal" fill="#000" >3</text>
<text x="411.2" y="357.05" font-size="7.2" text-anchor="end" font-weight="normal" fill="#000" >0</text>
<text x="411.2" y="375.22" font-size="7.2" text-anchor="end" font-weight="normal" fill="#000" >-3</text>
<text x="411.2" y="393.4" font-size="7.2" text-anchor="end" font-weight="normal" fill="#000" >-6</text>
<circle cx="491.90" cy="382.80" r="1.45" fill="#1a1a1a"/>
<circle cx="496.10" cy="382.80" r="1.45" fill="#1a1a1a"/>
<line x1="413.30" y1="419.98" x2="512.00" y2="419.98" stroke="#ebebeb" stroke-width="1"/>
<line x1="413.30" y1="437.45" x2="512.00" y2="437.45" stroke="#ebebeb" stroke-width="1"/>
<line x1="413.30" y1="454.92" x2="512.00" y2="454.92" stroke="#ebebeb" stroke-width="1"/>
<line x1="413.30" y1="402.50" x2="512.00" y2="402.50" stroke="#b4b4b4" stroke-width="1.2"/>
<line x1="512.00" y1="402.50" x2="512.00" y2="472.40" stroke="#b4b4b4" stroke-width="1.2"/>
<line x1="413.30" y1="472.40" x2="512.00" y2="472.40" stroke="#b4b4b4" stroke-width="1.5"/>
<text x="419.0" y="412.8" font-size="8.5" text-anchor="start" font-weight="normal" fill="#000" textLength="19.0" lengthAdjust="spacingAndGlyphs">IL-13</text>
<rect x="423.90" y="433.20" width="13.30" height="4.05" fill="#fff" stroke="#939393" stroke-width="1"/>
<rect x="437.70" y="427.00" width="14.30" height="10.45" fill="#000" stroke="none" stroke-width="1"/>
<rect x="473.80" y="433.20" width="13.20" height="4.05" fill="#fff" stroke="#939393" stroke-width="1"/>
<rect x="487.50" y="437.45" width="14.20" height="29.55" fill="#000" stroke="none" stroke-width="1"/>
<line x1="413.30" y1="402.50" x2="413.30" y2="472.40" stroke="#999" stroke-width="1.2"/>
<text x="410.9" y="405.9" font-size="7.2" text-anchor="end" font-weight="normal" fill="#000" >10</text>
<text x="410.9" y="423.8" font-size="7.2" text-anchor="end" font-weight="normal" fill="#000" >5</text>
<text x="410.9" y="441.7" font-size="7.2" text-anchor="end" font-weight="normal" fill="#000" >0</text>
<text x="410.9" y="459.6" font-size="7.2" text-anchor="end" font-weight="normal" fill="#000" >-5</text>
<text x="410.9" y="477.5" font-size="7.2" text-anchor="end" font-weight="normal" fill="#000" >-10</text>
<circle cx="490.50" cy="470.50" r="1.45" fill="#1a1a1a"/>
<circle cx="494.70" cy="470.50" r="1.45" fill="#1a1a1a"/>
<circle cx="498.90" cy="470.50" r="1.45" fill="#1a1a1a"/>
<text x="314.2" y="482.5" font-size="8.6" text-anchor="middle" font-weight="normal" fill="#000" >iso</text>
<text x="364.3" y="482.5" font-size="8.6" text-anchor="middle" font-weight="normal" fill="#000" >anti-CD3</text>
<text x="438.0" y="478.8" font-size="8.6" text-anchor="middle" font-weight="normal" fill="#000" >iso</text>
<text x="487.6" y="480.9" font-size="8.6" text-anchor="middle" font-weight="normal" fill="#000" >anti-CD3</text>
<text x="0" y="0" font-size="8.55" text-anchor="middle" font-weight="normal" fill="#000" transform="translate(10.4 360.35) rotate(-90)">Fold change compared to culture with P815 cells</text>
<text x="0" y="0" font-size="8.55" text-anchor="middle" font-weight="normal" fill="#000" transform="translate(271.4 363.7) rotate(-90)">Fold change compared to culture with P815 cells</text></g></svg>
</div></body></html>
